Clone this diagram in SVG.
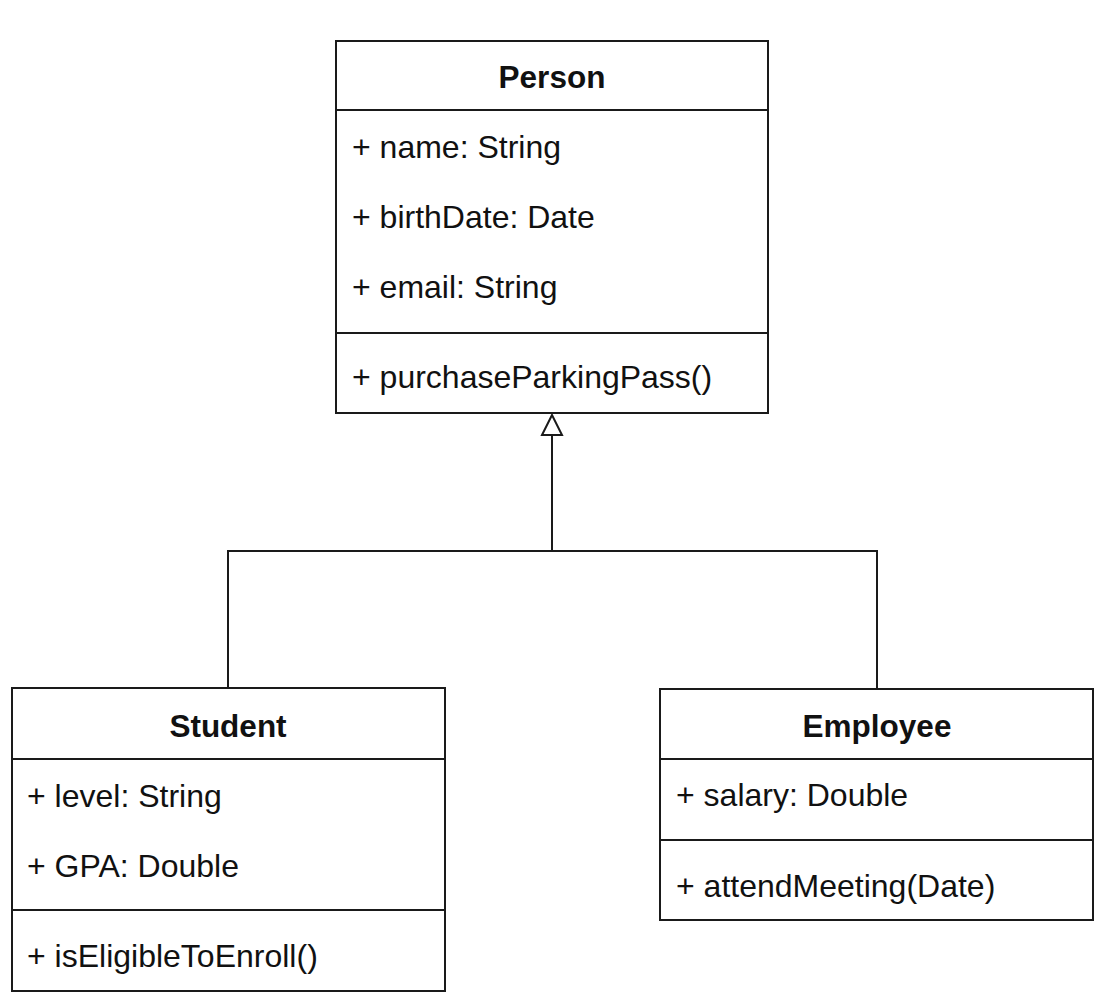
<svg xmlns="http://www.w3.org/2000/svg" width="1114" height="1002" viewBox="0 0 1114 1002">
<style>
.box{fill:#fff;stroke:#1a1a1a;stroke-width:2}
.ln{stroke:#1a1a1a;stroke-width:2;fill:none}
.t{font-family:"Liberation Sans",Arial,sans-serif;font-size:32px;fill:#111}
.h{font-family:"Liberation Sans",Arial,sans-serif;font-size:31.5px;font-weight:bold;fill:#111;text-anchor:middle}
</style>
<defs>
<marker id="inh" markerWidth="24" markerHeight="24" refX="21" refY="11" orient="auto" markerUnits="userSpaceOnUse" viewBox="0 0 24 22">
<path d="M1,1 L21,11 L1,21 Z" fill="#fff" stroke="#1a1a1a" stroke-width="2"/>
</marker>
</defs>
<rect width="1114" height="1002" fill="#fff"/>
<g id="connectors">
<path class="ln" d="M228,688 L228,551 L877,551 L877,689"/>
<path class="ln" d="M552,551 L552,415" marker-end="url(#inh)"/>
</g>
<g id="person">
<rect class="box" x="336" y="41" width="432" height="372"/>
<line class="ln" x1="336" y1="110" x2="768" y2="110"/>
<line class="ln" x1="336" y1="333" x2="768" y2="333"/>
<text class="h" x="552" y="88">Person</text>
<text class="t" x="352" y="158">+ name: String</text>
<text class="t" x="352" y="228">+ birthDate: Date</text>
<text class="t" x="352" y="298">+ email: String</text>
<text class="t" x="352" y="388">+ purchaseParkingPass()</text>
</g>
<g id="student">
<rect class="box" x="12" y="688" width="433" height="303"/>
<line class="ln" x1="12" y1="759" x2="445" y2="759"/>
<line class="ln" x1="12" y1="910" x2="445" y2="910"/>
<text class="h" x="228" y="737">Student</text>
<text class="t" x="27" y="807">+ level: String</text>
<text class="t" x="27" y="877">+ GPA: Double</text>
<text class="t" x="27" y="967">+ isEligibleToEnroll()</text>
</g>
<g id="employee">
<rect class="box" x="660" y="689" width="433" height="231"/>
<line class="ln" x1="660" y1="759" x2="1093" y2="759"/>
<line class="ln" x1="660" y1="840" x2="1093" y2="840"/>
<text class="h" x="877" y="737">Employee</text>
<text class="t" x="676" y="806">+ salary: Double</text>
<text class="t" x="676" y="897">+ attendMeeting(Date)</text>
</g>
</svg>
